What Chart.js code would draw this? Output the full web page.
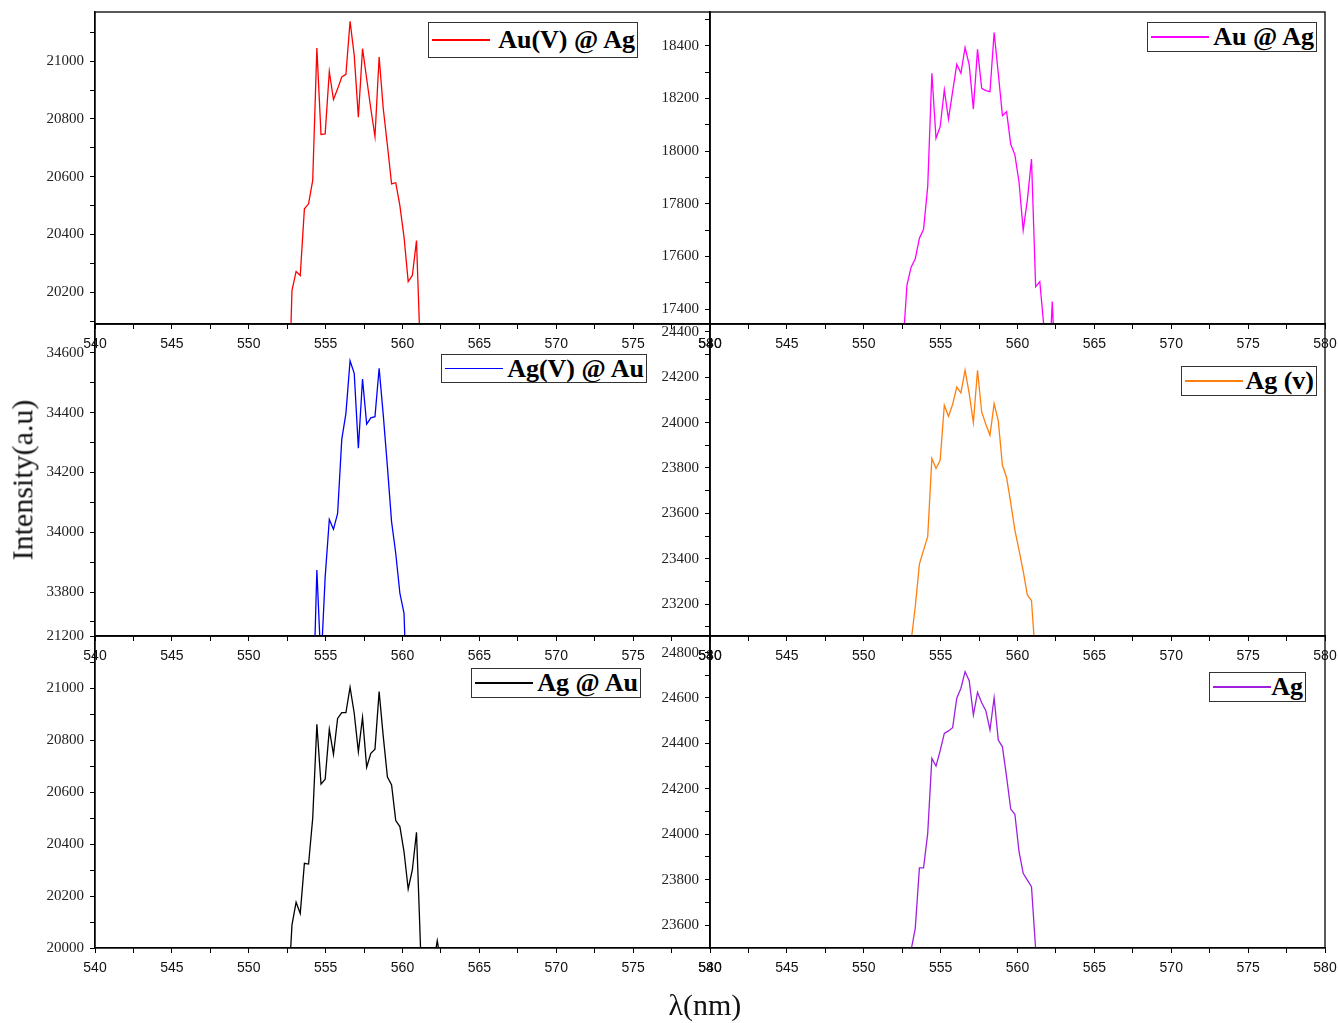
<!DOCTYPE html>
<html>
<head>
<meta charset="utf-8">
<title>Emission spectra</title>
<script src="https://cdn.jsdelivr.net/npm/chart.js@4/dist/chart.umd.min.js"></script>
<style>
    body { margin: 0; background: #fff; }
    #page { position: relative; width: 1339px; height: 1023px; overflow: hidden; background: #fff; }
    #page canvas { position: absolute; left: 0; top: 0; }
    .legend {
        position: absolute; box-sizing: border-box; border: 1px solid #333; background: #fff;
        display: flex; align-items: center; justify-content: space-between;
        padding: 0 2px 0 3px; white-space: nowrap;
        font: bold 26px "Liberation Serif", "Times New Roman", serif; color: #000;
    }
    .legend .swatch { display: block; width: 58px; height: 1.5px; }
    .axis-title { position: absolute; font: 30px "Liberation Serif", "Times New Roman", serif; color: #111; white-space: nowrap; }
</style>
</head>
<body>
<div id="page"></div>
<script>
// wavelength samples (nm), shared by all six spectra
const wavelength = [552.27, 552.54, 552.81, 553.08, 553.35, 553.62, 553.89, 554.16, 554.43, 554.70,
                    554.97, 555.24, 555.51, 555.78, 556.05, 556.32, 556.59, 556.86, 557.13, 557.40,
                    557.67, 557.94, 558.21, 558.48, 558.75, 559.02, 559.29, 559.56, 559.83, 560.10,
                    560.37, 560.64, 560.91, 561.18, 561.45, 561.72, 561.99, 562.26, 562.53, 562.80];

// intensities (values under the axis floor are clipped off)
const auVAg = [19600, 19700, 20206, 20272, 20258, 20489, 20506, 20587, 21045, 20746,
               20748, 20964, 20867, 20904, 20945, 20954, 21138, 21020, 20806, 21043,
               20939, 20835, 20739, 21014, 20835, 20708, 20575, 20579, 20500, 20391,
               20237, 20258, 20379, 19960, 19600, 19600, 19600, 19600, 19600, 19600];
const auAg = [16900, 17250, 17491, 17559, 17591, 17669, 17703, 17865, 18296, 18049,
              18093, 18233, 18122, 18226, 18330, 18296, 18394, 18328, 18160, 18387,
              18239, 18230, 18226, 18451, 18296, 18135, 18150, 18026, 17986, 17882,
              17700, 17814, 17970, 17485, 17504, 17330, 17075, 17428, 17075, 16900];
const agVAu = [33300, 33300, 33300, 33300, 33300, 33300, 33300, 33373, 33874, 33556,
               33850, 34043, 34010, 34063, 34311, 34398, 34574, 34532, 34281, 34513,
               34362, 34383, 34387, 34549, 34392, 34219, 34035, 33930, 33796, 33729,
               33300, 33300, 33300, 33300, 33300, 33300, 33300, 33300, 33300, 33300];
const agV = [22900, 22900, 22900, 23035, 23188, 23376, 23438, 23497, 23842, 23798,
             23834, 24077, 24028, 24080, 24157, 24131, 24231, 24128, 24000, 24231,
             24047, 23993, 23944, 24084, 24008, 23812, 23758, 23646, 23526, 23438,
             23345, 23240, 23215, 22951, 22900, 22900, 22900, 22900, 22900, 22900];
const agAu = [19600, 19795, 20088, 20176, 20133, 20326, 20323, 20499, 20860, 20630,
              20649, 20841, 20745, 20883, 20905, 20905, 21003, 20903, 20755, 20887,
              20695, 20749, 20765, 20986, 20813, 20657, 20627, 20490, 20467, 20370,
              20227, 20300, 20445, 19990, 19800, 19800, 19930, 20028, 19930, 19800];
const ag = [23300, 23300, 23300, 23490, 23585, 23852, 23852, 24004, 24334, 24300,
            24368, 24444, 24455, 24469, 24599, 24643, 24716, 24676, 24525, 24625,
            24579, 24544, 24459, 24601, 24415, 24385, 24253, 24111, 24088, 23923,
            23828, 23798, 23769, 23495, 23300, 23300, 23300, 23300, 23300, 23300];

const seriesNames = ['Au(V) @ Ag', 'Au @ Ag', 'Ag(V) @ Au', 'Ag (v)', 'Ag @ Au', 'Ag'];
const seriesData = [auVAg, auAg, agVAu, agV, agAu, ag];
const seriesColors = ['#ff0000', '#ff00ff', '#0000ff', '#ff7f0e', '#000000', '#a020e0'];

// axis ranges per panel
const xRange = [540, 580];
const xMajorStep = 5;
const yMins = [20090, 17343, 33653, 23059, 20000, 23499];
const yMaxs = [21170, 18529, 34697, 24435, 21200, 24873];
const yMajorStep = 200;

// plot rectangles [left, top, right, bottom] in page pixels
const PLOT_BOX = [
    [95, 12, 710, 324], [710, 12, 1325, 324],
    [95, 324, 710, 636], [710, 324, 1325, 636],
    [95, 636, 710, 948], [710, 636, 1325, 948]
];
// legend boxes [left, top, width, height]
const LEGEND_BOX = [
    [428, 22, 210, 36], [1147, 22, 170, 30],
    [441, 354, 206, 29], [1181, 366, 136, 30],
    [471, 668, 170, 30], [1209, 672, 97, 30]
];

const PAGE_W = 1339, PAGE_H = 1023;
const Y_AXIS_W = 90, X_AXIS_H = 40;

const framePlugin = {
    id: 'frame',
    afterDraw(chart) {
        const { ctx, chartArea: a } = chart;
        ctx.save();
        ctx.strokeStyle = '#000';
        ctx.lineWidth = 1.3;
        ctx.strokeRect(a.left, a.top, a.right - a.left, a.bottom - a.top);
        ctx.restore();
    }
};

const page = document.getElementById('page');

function makePanel(i) {
    const canvas = document.createElement('canvas');
    canvas.width = PAGE_W;
    canvas.height = PAGE_H;
    page.appendChild(canvas);
    const box = PLOT_BOX[i];

    new Chart(canvas, {
        type: 'line',
        data: {
            datasets: [{
                label: seriesNames[i],
                data: wavelength.map((x, k) => ({ x: x, y: seriesData[i][k] })),
                borderColor: seriesColors[i],
                borderWidth: 1.3,
                pointRadius: 0,
                tension: 0,
                fill: false
            }]
        },
        options: {
            responsive: false,
            animation: false,
            devicePixelRatio: 1,
            events: [],
            layout: {
                padding: {
                    left: box[0] - Y_AXIS_W,
                    top: box[1],
                    right: PAGE_W - box[2],
                    bottom: PAGE_H - box[3] - X_AXIS_H
                }
            },
            plugins: {
                legend: { display: false },
                tooltip: { enabled: false }
            },
            scales: {
                x: {
                    type: 'linear',
                    min: xRange[0],
                    max: xRange[1],
                    afterFit: s => { s.height = X_AXIS_H; s.paddingLeft = 0; s.paddingRight = 0; },
                    ticks: {
                        stepSize: xMajorStep / 2,
                        maxTicksLimit: 100,
                        includeBounds: false,
                        autoSkip: false,
                        maxRotation: 0,
                        padding: 7,
                        color: '#111',
                        font: { family: '"Liberation Sans", Arial, sans-serif', size: 14 },
                        callback: v => (v % xMajorStep === 0 ? String(v) : '')
                    },
                    grid: { drawOnChartArea: false, tickLength: 5, color: '#000', lineWidth: 1 },
                    border: { color: '#000', width: 1.3 }
                },
                y: {
                    min: yMins[i],
                    max: yMaxs[i],
                    afterFit: s => { s.width = Y_AXIS_W; s.paddingTop = 0; s.paddingBottom = 0; },
                    ticks: {
                        stepSize: yMajorStep / 2,
                        maxTicksLimit: 100,
                        includeBounds: false,
                        autoSkip: false,
                        padding: 6,
                        color: '#222',
                        font: { family: '"Liberation Serif", "Times New Roman", serif', size: 15 },
                        callback: v => (v % yMajorStep === 0 ? String(v) : '')
                    },
                    grid: { drawOnChartArea: false, tickLength: 5, color: '#000', lineWidth: 1 },
                    border: { color: '#000', width: 1.3 }
                }
            }
        },
        plugins: [framePlugin]
    });

    // legend box
    const lb = LEGEND_BOX[i];
    const leg = document.createElement('div');
    leg.className = 'legend';
    leg.style.left = lb[0] + 'px';
    leg.style.top = lb[1] + 'px';
    leg.style.width = lb[2] + 'px';
    leg.style.height = lb[3] + 'px';
    const sw = document.createElement('span');
    sw.className = 'swatch';
    sw.style.background = seriesColors[i];
    const txt = document.createElement('span');
    txt.textContent = seriesNames[i];
    leg.appendChild(sw);
    leg.appendChild(txt);
    page.appendChild(leg);
}

for (let i = 0; i < seriesData.length; i++) makePanel(i);

// axis titles
const yTitle = document.createElement('div');
yTitle.className = 'axis-title';
yTitle.textContent = 'Intensity(a.u)';
page.appendChild(yTitle);
yTitle.style.left = (22 - yTitle.offsetWidth / 2) + 'px';
yTitle.style.top = (480 - yTitle.offsetHeight / 2) + 'px';
yTitle.style.transform = 'rotate(-90deg)';

const xTitle = document.createElement('div');
xTitle.className = 'axis-title';
xTitle.textContent = 'λ(nm)';
page.appendChild(xTitle);
xTitle.style.left = (705 - xTitle.offsetWidth / 2) + 'px';
xTitle.style.top = (1005 - xTitle.offsetHeight / 2) + 'px';
</script>
</body>
</html>
